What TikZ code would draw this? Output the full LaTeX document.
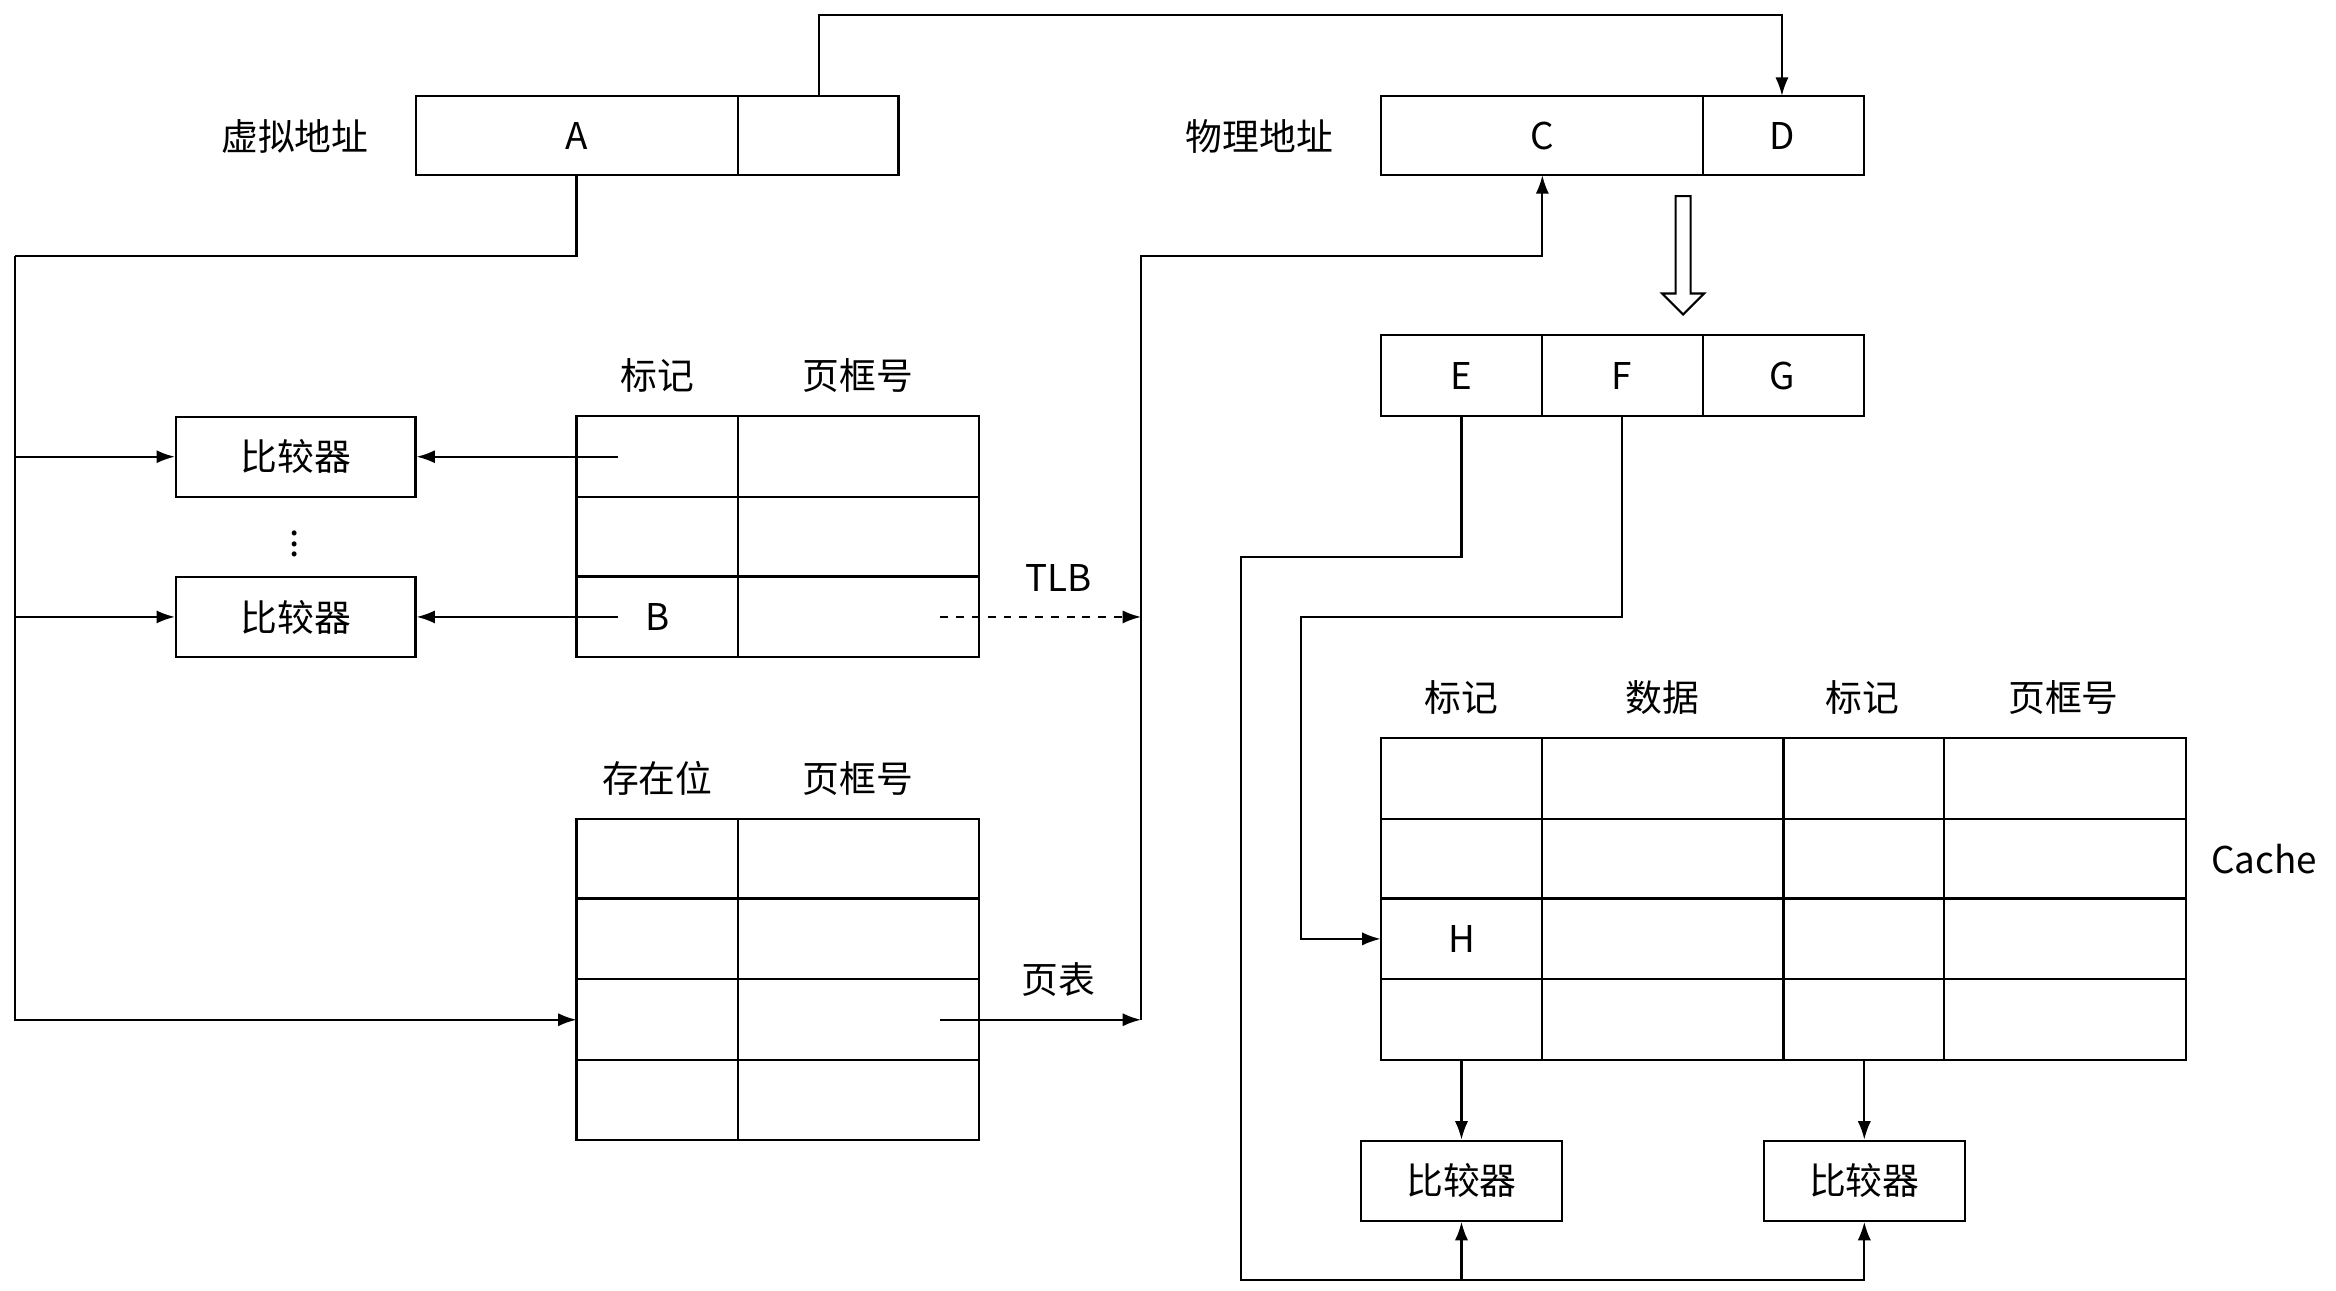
\documentclass[tikz,border=0pt]{standalone}
\usepackage{fontspec}
\setmainfont{Noto Sans CJK SC}
\usetikzlibrary{positioning, arrows.meta}

\begin{document}
\begin{tikzpicture}[x=0.02cm, y=-0.02cm,
    every node/.style={font=\fontsize{14}{16}\selectfont},
    cell/.style={draw, line width=0.8pt},
    cmp/.style={draw, line width=0.8pt, minimum width=3.2cm, minimum height=1.07cm, inner sep=0pt},
    arr/.style={-{Latex[length=7pt, width=5pt]}, line width=0.8pt},
    wire/.style={line width=0.8pt}]
    \useasboundingbox (0,0) rectangle (1560,862);
    % address registers
    \draw[cell] (278,64) rectangle (600,117) (493,64) -- (493,117);
    \draw[cell] (922,64) rectangle (1245,117) (1137,64) -- (1137,117);
    \node (va) at (197,91) {虚拟地址};
    \node (A) at (385,91) {A};
    \node (pa) at (841,91) {物理地址};
    \node (C) at (1030,91) {C};
    \node (D) at (1190,91) {D};
    \coordinate (voff) at (547,64);
    \coordinate (Abot) at (385,117);
    \coordinate (Cbot) at (1030,117);
    \coordinate (Dtop) at (1190,64);
    \draw[arr] (voff) |- (547,10) -| (Dtop);
    % comparators for the TLB
    \node[cmp] (cmp1) at (197.5,305) {比较器};
    \node[cmp] (cmp2) at (197.5,412) {比较器};
    \node[inner sep=0pt] (dots) at (197,358) {$\vdots$};
    % TLB
    \draw[cell] (385,278) rectangle (654,439) (493,278) -- (493,439);
    \foreach \y in {332,385} {
        \draw[cell] (385,\y) -- (654,\y);
    }
    \node (tlbtag) at (439,251) {标记};
    \node (tlbpfn) at (573,251) {页框号};
    \node (B) at (439,412) {B};
    \node (tlb) at (707,386) {TLB};
    \coordinate (t1) at (413,305);
    \coordinate (t2) at (413,412);
    \draw[arr] (t1) -- (cmp1.east);
    \draw[arr] (t2) -- (cmp2.east);
    % page table
    \draw[cell] (385,547) rectangle (654,761) (493,547) -- (493,761);
    \foreach \y in {600,654,708} {
        \draw[cell] (385,\y) -- (654,\y);
    }
    \node (ptbit) at (439,520) {存在位};
    \node (ptpfn) at (573,520) {页框号};
    \node (pt) at (707,654) {页表};
    \coordinate (ptrow) at (385,681);
    \coordinate (bus) at (762,171);
    \coordinate (tlbin) at (762,412);
    \coordinate (ptin) at (762,681);
    \draw[wire] (Abot) |- (10,171);
    \draw[arr] (10,171) |- (ptrow);
    \draw[arr] (10,305) -- (cmp1.west);
    \draw[arr] (10,412) -- (cmp2.west);
    \draw[arr, dashed] (628,412) -- (tlbin);
    \draw[arr] (628,681) -- (ptin);
    \draw[arr] (ptin) -- (bus) -| (Cbot);
    % split of the physical address
    \draw[line width=0.8pt] (1119,131) -- (1129,131) -- (1129,196) -- (1138,196)
        -- (1124,210) -- (1110,196) -- (1119,196) -- cycle;
    \draw[cell] (922,224) rectangle (1245,278) (1030,224) -- (1030,278) (1137,224) -- (1137,278);
    \node (E) at (976,251) {E};
    \node (F) at (1083,251) {F};
    \node (G) at (1190,251) {G};
    % cache
    \draw[cell] (922,493) rectangle (1460,708);
    \foreach \x in {1030,1191,1298} {
        \draw[cell] (\x,493) -- (\x,708);
    }
    \foreach \y in {547,600,654} {
        \draw[cell] (922,\y) -- (1460,\y);
    }
    \node (ctag1) at (976,466) {标记};
    \node (cdata) at (1110,466) {数据};
    \node (ctag2) at (1244,466) {标记};
    \node (cpfn) at (1378,466) {页框号};
    \node (cache) at (1512,574) {Cache};
    \node (H) at (976,627) {H};
    \node[cmp, minimum width=2.68cm] (cmp3) at (976,788.5) {比较器};
    \node[cmp, minimum width=2.68cm] (cmp4) at (1245,788.5) {比较器};
    \coordinate (Ebot) at (976,278);
    \coordinate (Fbot) at (1083,278);
    \coordinate (Hrow) at (922,627);
    \draw[arr] (Ebot) |- (829,372) |- (1245,855) -- (cmp4.south);
    \draw[arr] (976,855) -- (cmp3.south);
    \draw[arr] (Fbot) |- (869,412) |- (Hrow);
    \draw[arr] (976,708) -- (cmp3.north);
    \draw[arr] (1245,708) -- (cmp4.north);
\end{tikzpicture}
\end{document}
